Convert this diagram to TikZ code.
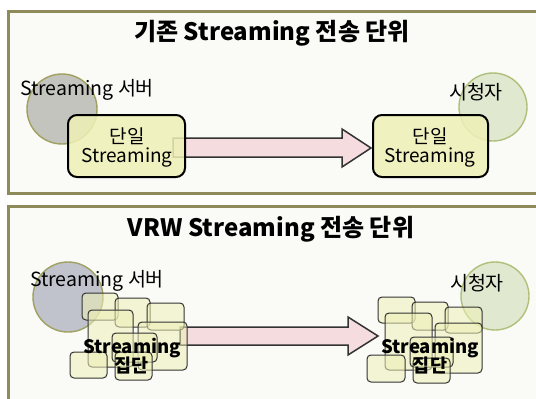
\documentclass[tikz,border=0pt]{standalone}
\usepackage{fontspec}
\setmainfont{Noto Sans CJK KR}
\begin{document}
\begin{tikzpicture}[x=1pt,y=-1pt,
  panel/.style={draw=panelc,line width=3pt,fill=panelbg},
  srv/.style={circle,draw=srvline,line width=1.4pt,fill=srvfill,minimum size=70pt,inner sep=0},
  viewer/.style={circle,draw=viewline,line width=1.4pt,fill=viewfill,minimum size=68pt,inner sep=0},
  lbl/.style={font=\fontsize{19.5}{22}\selectfont,inner sep=0},
  ttl/.style={font=\bfseries\fontsize{24}{28}\selectfont,inner sep=0},
  unitbox/.style={draw=black,line width=2pt,rounded corners=9pt,fill=boxfill,fill opacity=0.85},
  unittxt/.style={font=\fontsize{19}{22}\selectfont,inner sep=0},
  small/.style={draw=black!80,line width=1pt,rounded corners=4pt,fill=boxfill,fill opacity=0.55},
  grptxt/.style={font=\bfseries\fontsize{18.5}{22}\selectfont,align=center,inner sep=0},
  blockarrow/.style={draw=black!80,line width=1.5pt,fill=arrowfill,line join=miter}
]
\definecolor{panelc}{HTML}{8F8A5A}
\definecolor{panelbg}{HTML}{FAFAF7}
\definecolor{srvline}{HTML}{A0A060}
\definecolor{srvfill}{HTML}{C4C4BE}
\definecolor{srvfill2}{HTML}{C0C2CC}
\definecolor{viewline}{HTML}{B0C07A}
\definecolor{viewfill}{HTML}{E0E8D0}
\definecolor{boxfill}{HTML}{EEF0B6}
\definecolor{arrowfill}{HTML}{F5DCDF}
\useasboundingbox (0,0) rectangle (536,399);
\fill[white] (0,0) rectangle (536,399);
% ---------- top panel ----------
\draw[panel] (8,11) rectangle (545,193);
\node[ttl] (t1) at (272,33) {기존 Streaming 전송 단위};
\node[srv] (s1) at (62,109) {};
\node[viewer] (v1) at (493,107) {};
\node[lbl] (s1l) at (87,90) {Streaming 서버};
\node[lbl] (v1l) at (476,92) {시청자};
\draw[blockarrow] (173,138) -- (342,138) -- (342,129) -- (371,148) -- (342,167) -- (342,157) -- (173,157) -- cycle;
\draw[unitbox] (68,115) rectangle (185,177);
\node[unittxt] (u1a) at (127,136.5) {단일};
\node[unittxt] (u1b) at (127,158) {Streaming};
\draw[unitbox] (373,115) rectangle (488,177);
\node[unittxt] (u2a) at (430,136.5) {단일};
\node[unittxt] (u2b) at (430,158) {Streaming};
% ---------- bottom panel ----------
\draw[panel] (8,206) rectangle (545,410);
\node[ttl] (t2) at (271,229) {VRW Streaming 전송 단위};
\node[srv,fill=srvfill2] (s2) at (68,297) {};
\node[viewer] (v2) at (495,296) {};
\node[lbl] (s2l) at (97,281) {Streaming 서버};
\node[lbl] (v2l) at (477,283) {시청자};
\draw[blockarrow] (180,327) -- (348,327) -- (348,317) -- (378,336) -- (348,355) -- (348,345) -- (180,345) -- cycle;
% left cluster
\draw[small] (82,293) rectangle (118,320);
\draw[small] (115,298) rectangle (150,327);
\draw[small] (147,303) rectangle (184,330);
\draw[small] (88,310) rectangle (133,367);
\draw[small] (138,322) rectangle (187,370);
\draw[small] (112,333) rectangle (157,362);
\draw[small] (70,352) rectangle (107,378);
\draw[small] (115,352) rectangle (152,380);
\node[grptxt] (g1) at (132,356) {Streaming\\[-3pt]집단};
% right cluster
\draw[small] (378,297) rectangle (415,323);
\draw[small] (412,302) rectangle (448,330);
\draw[small] (445,307) rectangle (482,333);
\draw[small] (385,313) rectangle (432,370);
\draw[small] (435,323) rectangle (482,373);
\draw[small] (410,337) rectangle (453,367);
\draw[small] (367,355) rectangle (405,382);
\draw[small] (413,358) rectangle (450,383);
\node[grptxt] (g2) at (430,356) {Streaming\\[-3pt]집단};
\end{tikzpicture}
\end{document}
